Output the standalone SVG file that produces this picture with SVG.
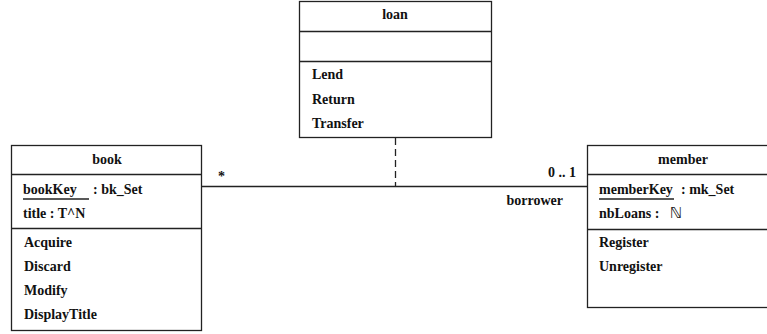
<svg xmlns="http://www.w3.org/2000/svg" width="767" height="334" viewBox="0 0 767 334">
<style>
.box{fill:#fff;stroke:#222;stroke-width:1.3}
.ln{stroke:#222;stroke-width:1.3;fill:none}
text{font-family:'Liberation Serif','DejaVu Serif','Times New Roman',serif;font-weight:bold;font-size:14px;fill:#111}
.c{text-anchor:middle}
.e{text-anchor:end}
.nat{font-family:'DejaVu Sans',sans-serif;font-weight:normal;font-size:15px}
</style>
<rect width="767" height="334" fill="#fff"/>
<g id="connectors">
<line class="ln" x1="202" y1="186.5" x2="587" y2="186.5"/>
<line class="ln" x1="395.5" y1="138" x2="395.5" y2="186" stroke-dasharray="7,4"/>
<text x="218" y="181">*</text>
<text class="e" x="576" y="177">0 .. 1</text>
<text class="e" x="563" y="205">borrower</text>
</g>
<g id="loan">
<rect class="box" x="299.5" y="1.5" width="192" height="136"/>
<line class="ln" x1="299.5" y1="31.5" x2="491.5" y2="31.5"/>
<line class="ln" x1="299.5" y1="61.5" x2="491.5" y2="61.5"/>
<text class="c" x="395" y="19">loan</text>
<text x="312" y="79">Lend</text>
<text x="312" y="104">Return</text>
<text x="312" y="128">Transfer</text>
</g>
<g id="book">
<rect class="box" x="11.5" y="145.5" width="190" height="185"/>
<line class="ln" x1="11.5" y1="174.5" x2="201.5" y2="174.5"/>
<line class="ln" x1="11.5" y1="228.5" x2="201.5" y2="228.5"/>
<text class="c" x="107" y="164">book</text>
<text x="23" y="194">bookKey</text>
<line class="ln" x1="23" y1="199" x2="89" y2="199"/>
<text x="93" y="194">: bk_Set</text>
<text x="23" y="218">title : T^N</text>
<text x="24" y="247">Acquire</text>
<text x="24" y="271">Discard</text>
<text x="24" y="295">Modify</text>
<text x="24" y="319">DisplayTitle</text>
</g>
<g id="member">
<rect class="box" x="587.5" y="145.5" width="200" height="162"/>
<line class="ln" x1="587.5" y1="174.5" x2="787.5" y2="174.5"/>
<line class="ln" x1="587.5" y1="229.5" x2="787.5" y2="229.5"/>
<text class="c" x="683" y="164">member</text>
<text x="599" y="194">memberKey</text>
<line class="ln" x1="599" y1="199" x2="674" y2="199"/>
<text x="681" y="194">: mk_Set</text>
<text x="599" y="218">nbLoans :</text>
<text class="nat" x="670" y="218">ℕ</text>
<text x="599" y="247">Register</text>
<text x="599" y="271">Unregister</text>
</g>
</svg>
